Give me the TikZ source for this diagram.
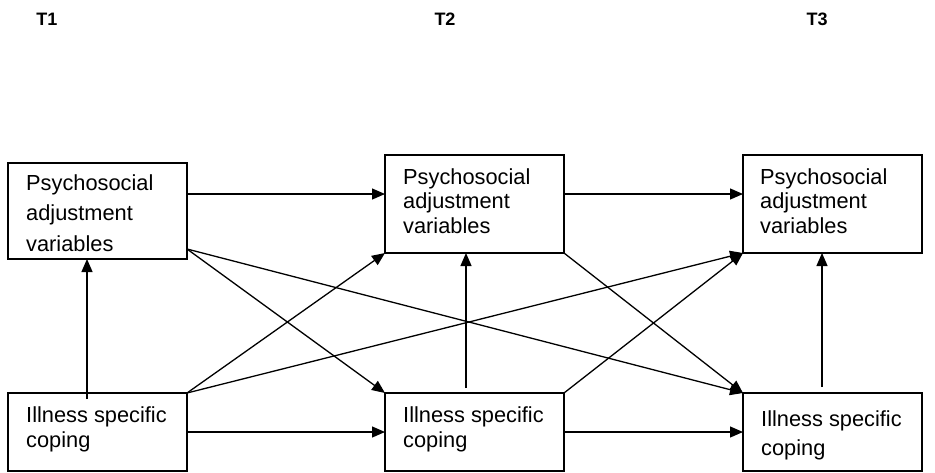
\documentclass[tikz,border=0pt]{standalone}
\usepackage{fontspec}
\setmainfont{Liberation Sans}
\usetikzlibrary{arrows.meta,calc}
\begin{document}
\begin{tikzpicture}[x=1pt,y=-1pt,
 box/.style={draw,line width=1.3pt,rectangle,inner sep=0pt,outer sep=0pt,minimum width=179pt},
 lbl/.style={anchor=base west,inner sep=0pt,font=\fontsize{21.8}{24.5}\selectfont},
 tlbl/.style={anchor=base,inner sep=0pt,font=\fontsize{18}{21}\selectfont\bfseries},
 arr/.style={line width=1.3pt,-{Triangle[length=13pt,width=11pt]}}]
\useasboundingbox (0,0) rectangle (935,472);
% titles
\node[tlbl] (t1) at (47,25) {T1};
\node[tlbl] (t2) at (445,25) {T2};
\node[tlbl] (t3) at (817,25) {T3};
% boxes
\node[box,minimum height=96pt] (P1) at (97.5,211) {};
\node[box,minimum height=98pt] (P2) at (474.5,204) {};
\node[box,minimum height=98pt] (P3) at (832.5,204) {};
\node[box,minimum height=78pt] (I1) at (97.5,432) {};
\node[box,minimum height=78pt] (I2) at (474.5,432) {};
\node[box,minimum height=78pt] (I3) at (832.5,432) {};
% texts
\node[lbl] (p1a) at (26,190) {Psychosocial};
\node[lbl] (p1b) at (26,220) {adjustment};
\node[lbl] (p1c) at (26,251) {variables};
\node[lbl] (p2a) at (403,184) {Psychosocial};
\node[lbl] (p2b) at (403,208.5) {adjustment};
\node[lbl] (p2c) at (403,233) {variables};
\node[lbl] (p3a) at (760,184) {Psychosocial};
\node[lbl] (p3b) at (760,208.5) {adjustment};
\node[lbl] (p3c) at (760,233) {variables};
\node[lbl] (i1a) at (26,422) {Illness specific};
\node[lbl] (i1b) at (26,447) {coping};
\node[lbl] (i2a) at (403,422) {Illness specific};
\node[lbl] (i2b) at (403,447) {coping};
\node[lbl] (i3a) at (761,426) {Illness specific};
\node[lbl] (i3b) at (761,455) {coping};
% helper coordinates
\coordinate (rowP) at (0,194);
\coordinate (rowI) at (0,432);
\coordinate (v1) at (87,399);
\coordinate (v2) at (466,388);
\coordinate (v3) at (822,387);
\coordinate (p1o) at ([yshift=10pt]P1.south east);
% horizontal arrows
\draw[arr] (P1.east |- rowP) -- (P2.west |- rowP);
\draw[arr] (P2.east |- rowP) -- (P3.west |- rowP);
\draw[arr] (I1.east |- rowI) -- (I2.west |- rowI);
\draw[arr] (I2.east |- rowI) -- (I3.west |- rowI);
% vertical arrows
\draw[arr] (v1) -- (v1 |- P1.south);
\draw[arr] (v2) -- (v2 |- P2.south);
\draw[arr] (v3) -- (v3 |- P3.south);
% diagonal arrows
\draw[arr] (p1o) -- (I2.north west);
\draw[arr] (p1o) -- (I3.north west);
\draw[arr] (I1.north east) -- (P2.south west);
\draw[arr] (I1.north east) -- (P3.south west);
\draw[arr] (P2.south east) -- (I3.north west);
\draw[arr] (I2.north east) -- (P3.south west);
\end{tikzpicture}
\end{document}
